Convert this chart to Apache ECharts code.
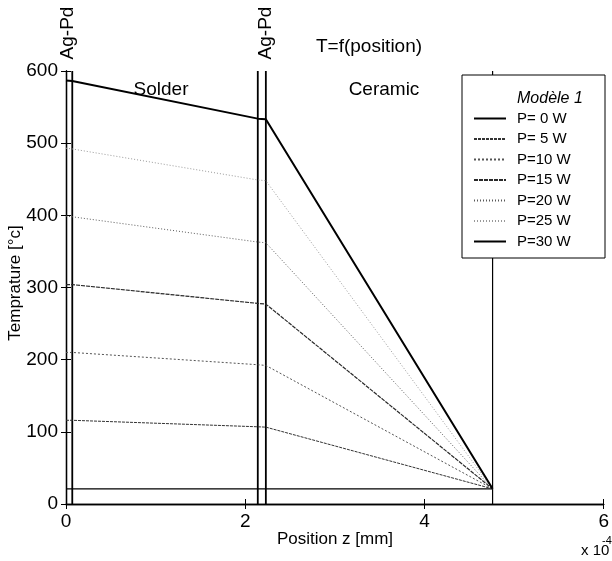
<!DOCTYPE html>
<html>
<head>
<meta charset="utf-8">
<script src="https://cdn.jsdelivr.net/npm/echarts@6/dist/echarts.min.js"></script>
<style>
  html, body { margin: 0; padding: 0; background: #fff; }
  #chart { width: 612px; height: 561px; }
</style>
</head>
<body>
<div id="chart"></div>
<script>
// positions along z (x 10^-4 mm): start, end Ag-Pd, end solder, end Ag-Pd, end ceramic
var zPos = [0, 0.07, 2.14, 2.23, 4.76];
// temperatures [°c] at those positions, one array per power
var tP0  = [21, 21, 21, 21, 21];
var tP5  = [116, 116, 107, 106.5, 21];
var tP10 = [210, 210, 193, 192, 21];
var tP15 = [304, 304, 278, 277, 21];
var tP20 = [399, 398, 363, 362, 21];
var tP25 = [493, 492, 449, 448, 21];
var tP30 = [587, 586, 534, 533, 21];
var seriesNames = ['P= 0 W', 'P= 5 W', 'P=10 W', 'P=15 W', 'P=20 W', 'P=25 W', 'P=30 W'];
// layer boundaries drawn as vertical lines
var layerEdges = [0.07, 2.14, 2.23, 4.76];
var xTicks = [0, 2, 4, 6];
var yTicks = [0, 100, 200, 300, 400, 500, 600];

var allTemps = [tP0, tP5, tP10, tP15, tP20, tP25, tP30];
var styles = [
  { color: '#000', width: 1.2, type: 'solid' },
  { color: '#333', width: 1, type: [3, 1] },
  { color: '#555', width: 1, type: [2, 2] },
  { color: '#2a2a2a', width: 1.2, type: [4, 1] },
  { color: '#5a5a5a', width: 1, type: [1, 2] },
  { color: '#999', width: 1, type: [1, 2] },
  { color: '#000', width: 2, type: 'solid' }
];

var chart = echarts.init(document.getElementById('chart'), null, { renderer: 'canvas' });

function pairs(xs, ys) {
  var out = [];
  for (var i = 0; i < xs.length; i++) out.push([xs[i], ys[i]]);
  return out;
}

var series = [];
//层间分界线
layerEdges.forEach(function (z, i) {
  series.push({
    type: 'line',
    name: 'edge' + i,
    data: [[z, yTicks[0]], [z, yTicks[yTicks.length - 1]]],
    symbol: 'none',
    silent: true,
    z: 1,
    lineStyle: { color: '#000', width: i === 3 ? 1.2 : 1.8 }
  });
});
//温度曲线
allTemps.forEach(function (t, i) {
  series.push({
    type: 'line',
    name: seriesNames[i],
    data: pairs(zPos, t),
    symbol: 'none',
    z: 2,
    lineStyle: styles[i],
    itemStyle: { color: styles[i].color }
  });
});

var font = 'Liberation Sans, Arial, sans-serif';
var narrow = 'Liberation Sans Narrow, Liberation Sans, Arial, sans-serif';

var option = {
  backgroundColor: '#fff',
  animation: false,
  grid: { left: 66, right: 4, top: 71, bottom: 57 },
  xAxis: [
    {
      type: 'value', min: xTicks[0], max: xTicks[xTicks.length - 1], interval: 2,
      axisLine: { lineStyle: { color: '#000', width: 1.3 } },
      axisTick: { inside: true, length: 5, lineStyle: { color: '#000' } },
      axisLabel: { color: '#000', fontFamily: narrow, fontSize: 19, margin: 8 },
      splitLine: { show: false }
    },
    {
      type: 'value', position: 'top', min: xTicks[0], max: xTicks[xTicks.length - 1], interval: 2,
      axisLine: { show: true, lineStyle: { color: '#000', width: 1.3 } },
      axisTick: { inside: true, length: 5, lineStyle: { color: '#000' } },
      axisLabel: { show: false },
      splitLine: { show: false }
    }
  ],
  yAxis: [
    {
      type: 'value', min: yTicks[0], max: yTicks[yTicks.length - 1], interval: 100,
      axisLine: { show: true, lineStyle: { color: '#000', width: 1.3 } },
      axisTick: { show: true, inside: true, length: 5, lineStyle: { color: '#000' } },
      axisLabel: { color: '#000', fontFamily: narrow, fontSize: 19, margin: 8 },
      splitLine: { show: false }
    },
    {
      type: 'value', position: 'right', min: yTicks[0], max: yTicks[yTicks.length - 1], interval: 100,
      axisLine: { show: true, lineStyle: { color: '#000', width: 1.3 } },
      axisTick: { show: true, inside: true, length: 5, lineStyle: { color: '#000' } },
      axisLabel: { show: false },
      splitLine: { show: false }
    }
  ],
  legend: {
    data: seriesNames,
    orient: 'vertical',
    left: 473,
    top: 111,
    padding: 0,
    itemWidth: 32,
    itemHeight: 14,
    itemGap: 5.5,
    z: 6,
    itemStyle: { opacity: 0 },
    textStyle: { color: '#000', fontFamily: font, fontSize: 15, lineHeight: 14, padding: [0, 0, 0, 6] }
  },
  graphic: [
    { type: 'rect', z: 5, shape: { x: 462, y: 75, width: 143, height: 183 },
      style: { fill: '#fff', stroke: '#000', lineWidth: 1 } },
    { type: 'text', z: 6, x: 517, y: 99,
      style: { text: 'Modèle 1', font: 'italic 16px ' + font, fill: '#000', verticalAlign: 'middle' } },
    { type: 'text', x: 369, y: 47,
      style: { text: 'T=f(position)', font: '19px ' + font, fill: '#000', align: 'center', verticalAlign: 'middle' } },
    { type: 'text', x: 68, y: 33, rotation: Math.PI / 2,
      style: { text: 'Ag-Pd', font: '19px ' + font, fill: '#000', align: 'center', verticalAlign: 'middle' } },
    { type: 'text', x: 266, y: 33, rotation: Math.PI / 2,
      style: { text: 'Ag-Pd', font: '19px ' + font, fill: '#000', align: 'center', verticalAlign: 'middle' } },
    { type: 'text', x: 161, y: 90,
      style: { text: 'Solder', font: '19px ' + font, fill: '#000', align: 'center', verticalAlign: 'middle' } },
    { type: 'text', x: 384, y: 90,
      style: { text: 'Ceramic', font: '19px ' + font, fill: '#000', align: 'center', verticalAlign: 'middle' } },
    { type: 'text', x: 335, y: 539,
      style: { text: 'Position z [mm]', font: '17px ' + narrow, fill: '#000', align: 'center', verticalAlign: 'middle' } },
    { type: 'text', x: 15, y: 283, rotation: Math.PI / 2,
      style: { text: 'Temprature [°c]', font: '17px ' + narrow, fill: '#000', align: 'center', verticalAlign: 'middle' } },
    { type: 'text', x: 581, y: 551,
      style: { text: 'x 10', font: '15px ' + narrow, fill: '#000', verticalAlign: 'middle' } },
    { type: 'text', x: 602, y: 541,
      style: { text: '-4', font: '11px ' + narrow, fill: '#000', verticalAlign: 'middle' } }
  ],
  series: series
};

chart.setOption(option);
window.onresize = chart.resize;
</script>
</body>
</html>
